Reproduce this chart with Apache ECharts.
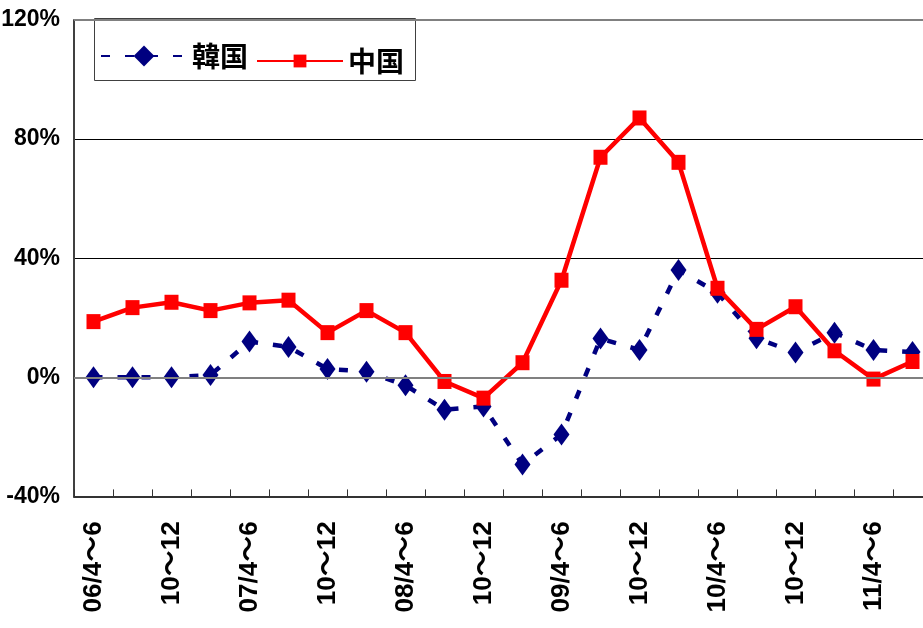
<!DOCTYPE html>
<html>
<head>
<meta charset="utf-8">
<script src="https://cdn.jsdelivr.net/npm/echarts@6/dist/echarts.min.js"></script>
<style>
html,body{margin:0;padding:0;background:#fff;}
#c{width:923px;height:628px;}
</style>
</head>
<body>
<div id="c"></div>
<script>
const categories = ['06/4～6','7～9','10～12','07/1～3','07/4～6','7～9','10～12','08/1～3','08/4～6','7～9','10～12','09/1～3','09/4～6','7～9','10～12','10/1～3','10/4～6','7～9','10～12','11/1～3','11/4～6','7～9'];
const korea = [0, 0, 0, 0.8, 12.0, 10.2, 2.8, 1.9, -2.7, -10.9, -9.8, -29.3, -19.2, 13.0, 9.2, 36.0, 28.4, 13.1, 8.3, 15.0, 9.2, 8.5];
const china = [18.7, 23.4, 25.2, 22.4, 25.0, 25.9, 15.0, 22.4, 15.0, -1.4, -7.0, 4.9, 32.6, 73.9, 87.1, 72.2, 29.9, 16.1, 23.7, 8.9, -0.6, 5.3];
const yMin = -40, yMax = 120, yStep = 40;

const chart = echarts.init(document.getElementById('c'), null, {renderer: 'canvas'});
chart.setOption({
  animation: false,
  backgroundColor: '#fff',
  grid: {left: 74, top: 20, width: 858, height: 476.4, containLabel: false, outerBoundsMode: 'none'},
  graphic: [{
    type: 'rect', z: 3,
    shape: {x: 94.5, y: 18.5, width: 321, height: 62},
    style: {fill: '#fff', stroke: '#404040', lineWidth: 1}
  }],
  legend: [{
    data: ['韓国'], left: 100, top: 42, padding: 0, itemWidth: 86, itemHeight: 26, z: 5,
    textStyle: {fontSize: 28, fontWeight: 'bold', color: '#000', fontFamily: '"Noto Sans CJK JP", sans-serif'}
  }, {
    data: ['中国'], left: 256, top: 47, padding: 0, itemWidth: 86, itemHeight: 16, z: 5,
    textStyle: {fontSize: 28, fontWeight: 'bold', color: '#000', fontFamily: '"Noto Sans CJK JP", sans-serif'}
  }],
  xAxis: {
    type: 'category', data: categories, boundaryGap: true,
    axisLine: {onZero: false, lineStyle: {color: '#333', width: 2}},
    axisTick: {show: true, inside: true, length: 7, interval: 0, lineStyle: {color: '#333', width: 1}},
    axisLabel: {interval: 1, rotate: 90, margin: 25, fontSize: 26, fontWeight: 'bold', color: '#000',
      fontFamily: '"Liberation Sans", "Noto Sans CJK JP", sans-serif'},
    splitLine: {show: false}
  },
  yAxis: {
    type: 'value', min: yMin, max: yMax, interval: yStep,
    axisLine: {show: true, lineStyle: {color: '#404040', width: 2}},
    axisTick: {show: false},
    axisLabel: {formatter: '{value}%', margin: 14, fontSize: 23, fontWeight: 'bold', color: '#000',
      fontFamily: '"Liberation Sans", sans-serif'},
    splitLine: {show: true, lineStyle: {color: ['#000', '#808080', '#000', '#000', '#808080'], width: 1}}
  },
  series: [{
    type: 'line', name: 'ref', data: [], z: 1, silent: true,
    markLine: {silent: true, symbol: 'none', label: {show: false},
      lineStyle: {color: '#808080', width: 2, type: 'solid'},
      data: [{yAxis: 0}, {yAxis: 120}]}
  }, {
    type: 'line', name: '韓国', data: korea, z: 2,
    symbol: 'diamond', symbolSize: [16, 22], showAllSymbol: true,
    itemStyle: {color: '#000080', borderWidth: 0},
    lineStyle: {color: '#000080', width: 4.5, type: [9, 15], cap: 'butt'}
  }, {
    type: 'line', name: '中国', data: china, z: 3,
    symbol: 'rect', symbolSize: [14, 15], showAllSymbol: true,
    itemStyle: {color: '#ff0000', borderWidth: 0},
    lineStyle: {color: '#ff0000', width: 4.5}
  }]
});
</script>
</body>
</html>
